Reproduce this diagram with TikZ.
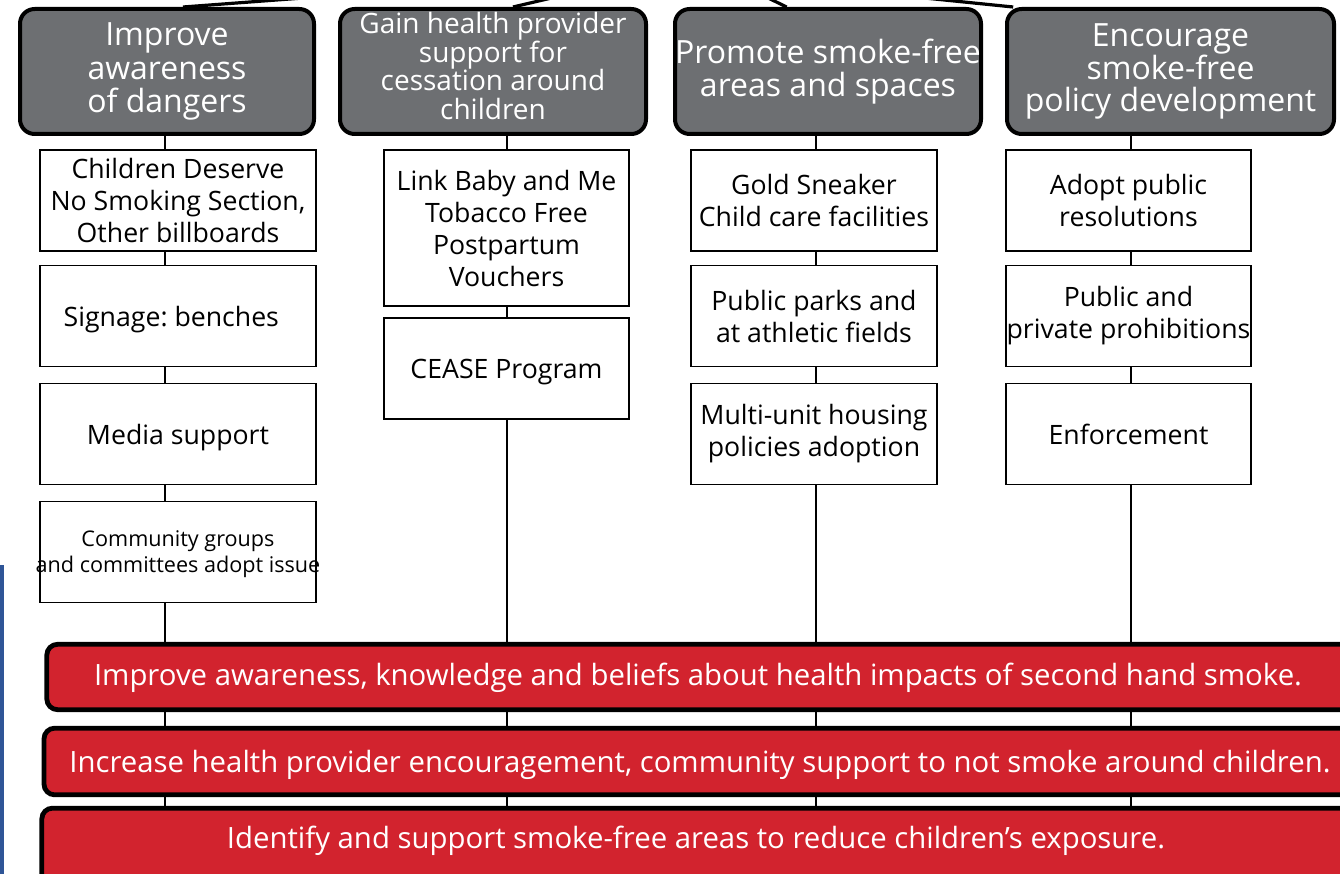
\documentclass[tikz,border=0pt]{standalone}
\usepackage{fontspec}
\setmainfont{Open Sans}
\frenchspacing
\usetikzlibrary{backgrounds}
\definecolor{hdrgray}{HTML}{6D6F72}
\definecolor{outred}{HTML}{D2232E}
\definecolor{sideblue}{HTML}{2F5597}
\tikzset{
  hdr/.style={draw=black, line width=3pt, fill=hdrgray, rounded corners=11pt, text=white, align=center, inner sep=0pt, font=\fontsize{24}{24.5}\selectfont},
  hdrtext/.style={text=white, align=center, inner sep=0pt, font=\fontsize{21}{21.75}\selectfont},
  sub/.style={draw=black, line width=1.1pt, fill=white, align=center, inner sep=0pt, font=\fontsize{20}{24}\selectfont},
  subtext/.style={align=center, inner sep=0pt, font=\fontsize{16.2}{20}\selectfont},
  outbox/.style={draw=black, line width=3.6pt, fill=outred, rounded corners=8pt, inner sep=0pt},
  outtext/.style={text=white, inner sep=0pt, font=\fontsize{22}{24}\selectfont},
  conn/.style={draw=black, line width=1.1pt},
  topconn/.style={draw=black, line width=2.4pt}
}
\begin{document}
\begin{tikzpicture}[x=0.75pt,y=-0.75pt]
\useasboundingbox (0,0) rectangle (1340,874);
\clip (0,0) rectangle (1340,874);
% side bar
\fill[sideblue] (0,565) rectangle (4,874);
% headers
\node[hdr, minimum width=220.5pt, minimum height=93.75pt, font=\fontsize{24}{25}\selectfont] (h1) at (167,71.5) {Improve\\awareness\\of dangers};
\node[hdr, minimum width=229.5pt, minimum height=93.75pt] (h2) at (493,71.5) {};
\node[hdrtext] (h2t) at (493,66) {Gain health provider\\support for\\cessation around\\children};
\node[hdr, minimum width=229.5pt, minimum height=93.75pt] (h3) at (828,71.5) {Promote smoke-free\\areas and spaces};
\node[hdr, minimum width=245.25pt, minimum height=93.75pt] (h4) at (1170.5,71.5) {Encourage\\smoke-free\\policy development};
% top connectors going to parent above
\coordinate (p1) at (330,-4);
\coordinate (p2) at (560,-4);
\coordinate (p3) at (764,-4);
\coordinate (p4) at (905,-4);
\draw[topconn] ([xshift=12pt]h1.north) -- (p1);
\draw[topconn] ([xshift=15pt]h2.north) -- (p2);
\draw[topconn] ([xshift=-31pt]h3.north) -- (p3);
\draw[topconn] ([xshift=-118pt]h4.north) -- (p4);
% column 1
\node[sub, minimum width=207pt, minimum height=75.75pt] (b1) at (178,200.5) {Children Deserve\\No Smoking Section,\\Other billboards};
\node[sub, minimum width=207pt, minimum height=75.75pt, text depth=0pt] (b2) at (178,316) {\hspace*{-10pt}Signage: benches};
\node[sub, minimum width=207pt, minimum height=75.75pt, text depth=0pt] (b3) at (178,434) {Media support};
\node[sub, minimum width=207pt, minimum height=75.75pt] (b4) at (178,552) {};
\node[subtext] (b4t) at (178,554) {Community groups\\and committees adopt issue};
% column 2
\node[sub, minimum width=183.75pt, minimum height=117pt] (b5) at (506.5,228) {Link Baby and Me\\Tobacco Free\\Postpartum\\Vouchers};
\node[sub, minimum width=183.75pt, minimum height=75.75pt, text depth=0pt] (b6) at (506.5,368.5) {CEASE Program};
% column 3
\node[sub, minimum width=184.5pt, minimum height=75.75pt] (b7) at (814,200.5) {Gold Sneaker\\Child care facilities};
\node[sub, minimum width=184.5pt, minimum height=75.75pt] (b8) at (814,316) {Public parks and\\at athletic fields};
\node[sub, minimum width=184.5pt, minimum height=75.75pt] (b9) at (814,434) {Multi-unit housing\\policies adoption};
% column 4
\node[sub, minimum width=183.75pt, minimum height=75.75pt] (b10) at (1128.5,200.5) {Adopt public\\resolutions};
\node[sub, minimum width=183.75pt, minimum height=75.75pt] (b11) at (1128.5,316) {Public and\\private prohibitions};
\node[sub, minimum width=183.75pt, minimum height=75.75pt] (b12) at (1128.5,434) {Enforcement};
% outcome boxes
\node[outbox, minimum width=1015pt, minimum height=49pt] (r1) at (723.5,677) {};
\node[outtext] (t1) at (698,678) {Improve awareness, knowledge and beliefs about health impacts of second hand smoke.};
\node[outbox, minimum width=1017pt, minimum height=50pt] (r2) at (722,761.5) {};
\node[outtext] (t2) at (700,765) {Increase health provider encouragement, community support to not smoke around children.};
\node[outbox, minimum width=1018pt, minimum height=68pt] (r3) at (720.5,853.5) {};
\node[outtext] (t3) at (696,841) {Identify and support smoke-free areas to reduce children’s exposure.};
% vertical column connectors behind everything
\coordinate (e1) at (165,880);
\coordinate (e2) at (507,880);
\coordinate (e3) at (816,880);
\coordinate (e4) at (1131,880);
\begin{pgfonlayer}{background}
\fill[white] (0,0) rectangle (1340,874);
\draw[conn] (h1.south -| e1) -- (e1);
\draw[conn] (h2.south -| e2) -- (e2);
\draw[conn] (h3.south -| e3) -- (e3);
\draw[conn] (h4.south -| e4) -- (e4);
\end{pgfonlayer}
\end{tikzpicture}
\end{document}
